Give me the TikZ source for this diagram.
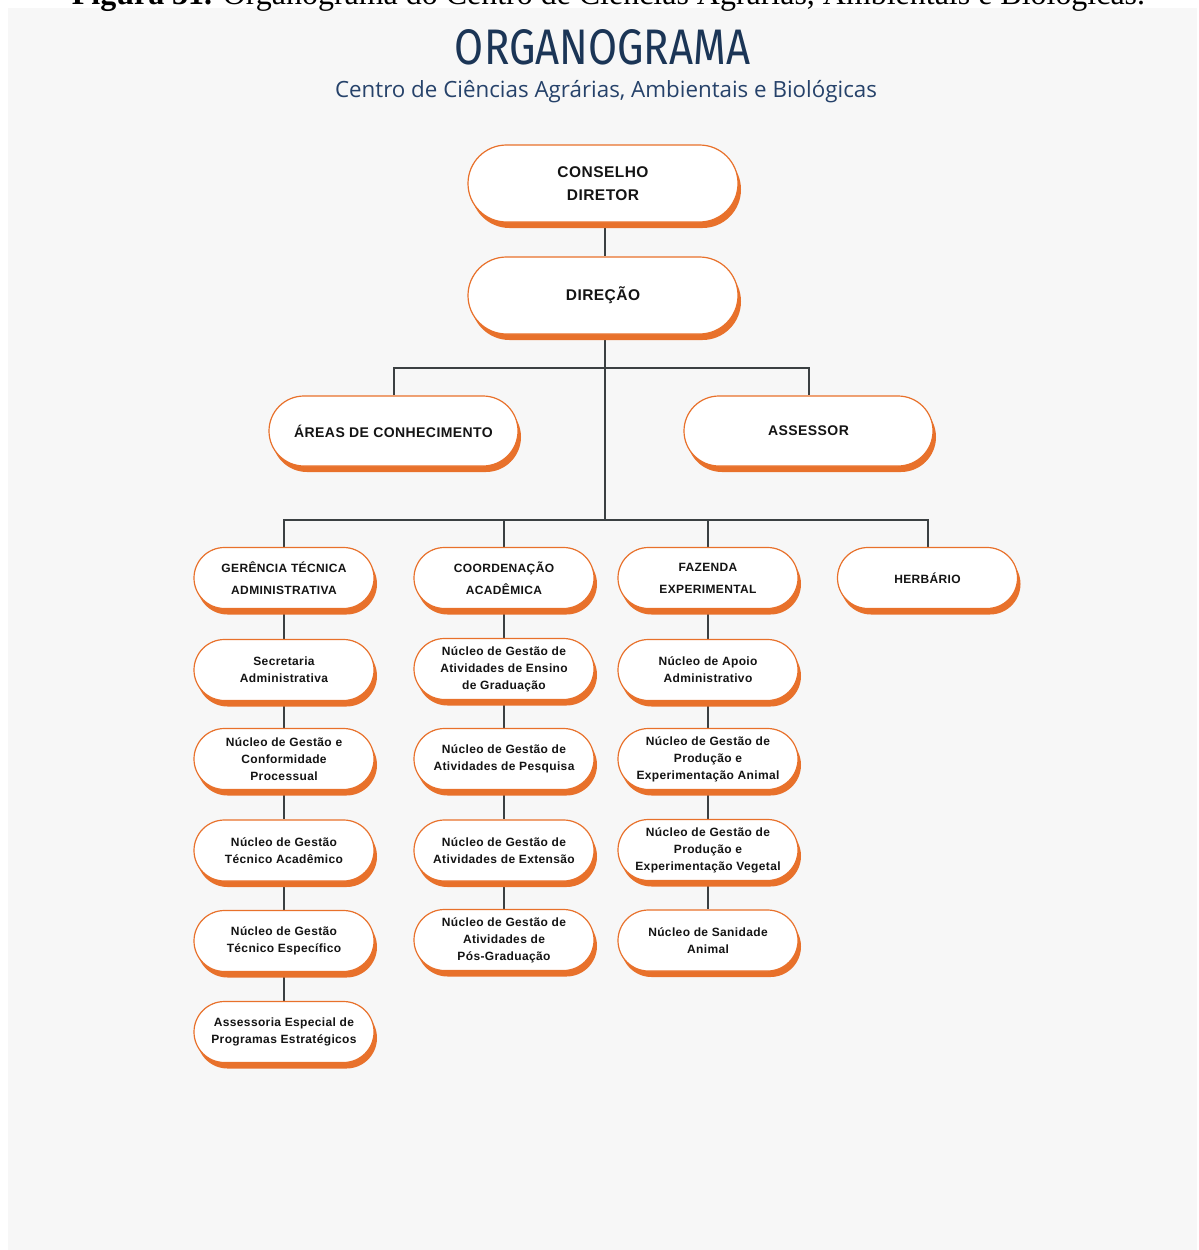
\documentclass[tikz,border=0pt]{standalone}
\usepackage{fontspec}
\usepackage{graphicx}
\setmainfont{Liberation Sans}
\newfontfamily\nodefont[LetterSpace=3]{Liberation Sans}
\newfontfamily\titlefont{Fira Sans}
\newfontfamily\subfont{Open Sans}
\newfontfamily\capfont{Liberation Serif}
\usetikzlibrary{shapes.misc,shadows,backgrounds}
\definecolor{org}{HTML}{E8712B}
\definecolor{navy}{HTML}{1B3556}
\definecolor{subnavy}{HTML}{26426A}
\definecolor{lin}{HTML}{3B4042}
\definecolor{bg}{HTML}{F7F7F7}
\begin{document}
\begin{tikzpicture}[x=1pt,y=-1pt,
  pill/.style={rounded rectangle, draw=org, line width=1.2pt, fill=white,
    align=center, inner sep=0pt, text=black!92,
    drop shadow={shadow xshift=3pt, shadow yshift=-6pt, fill=org, opacity=1}},
  bigbox/.style={pill, minimum width=270pt, minimum height=77pt,
    font=\nodefont\bfseries\fontsize{15.5}{23}\selectfont},
  midbox/.style={pill, minimum width=249pt, minimum height=70pt,
    font=\nodefont\bfseries\fontsize{14}{20}\selectfont},
  headbox/.style={pill, minimum width=180pt, minimum height=61pt,
    font=\nodefont\bfseries\fontsize{12}{22}\selectfont},
  smallbox/.style={pill, minimum width=180pt, minimum height=61pt,
    font=\nodefont\bfseries\fontsize{12}{17}\selectfont},
  conn/.style={draw=lin, line width=2pt}
]
\clip (0,0) rectangle (1199,1250);
\useasboundingbox (0,0) rectangle (1199,1250);

% caption (clipped at top, as in the reference)
\node[anchor=base, inner sep=0pt] (caption) at (608.5,5)
  {\resizebox{1073pt}{!}{\capfont\fontsize{28}{30}\selectfont\textbf{Figura 31.} Organograma do Centro de Ciências Agrárias, Ambientais e Biológicas.}};

% title
\node[anchor=base, inner sep=0pt, text=navy] (title) at (602.5,64)
  {\resizebox{295pt}{35pt}{\titlefont ORGANOGRAMA}};
\node[anchor=base, inner sep=0pt, text=subnavy] (subtitle) at (606,97)
  {\resizebox{542pt}{!}{\subfont\fontsize{20}{24}\selectfont Centro de Ciências Agrárias, Ambientais e Biológicas}};

% top
\node[bigbox] (cons) at (603,183.5) {CONSELHO\\DIRETOR};
\node[bigbox] (dir) at (603,295.5) {DIREÇÃO};
\node[midbox] (areas) at (393.5,431) {ÁREAS DE CONHECIMENTO};
\node[midbox] (assessor) at (808.5,431) {ASSESSOR};

% headers
\node[headbox] (ger) at (284,578) {GERÊNCIA TÉCNICA\\ADMINISTRATIVA};
\node[headbox] (coo) at (504,578) {COORDENAÇÃO\\ACADÊMICA};
\node[headbox] (faz) at (708,578) {FAZENDA\\EXPERIMENTAL};
\node[headbox] (herb) at (927.5,578) {HERBÁRIO};

% column 1
\node[smallbox] (sec) at (284,670) {Secretaria\\Administrativa};
\node[smallbox] (ngc) at (284,759) {Núcleo de Gestão e\\Conformidade\\Processual};
\node[smallbox] (nta) at (284,850.5) {Núcleo de Gestão\\Técnico Acadêmico};
\node[smallbox] (nte) at (284,941) {Núcleo de Gestão\\Técnico Específico};
\node[smallbox] (aep) at (284,1032) {Assessoria Especial de\\Programas Estratégicos};

% column 2
\node[smallbox] (nen) at (504,669) {Núcleo de Gestão de\\Atividades de Ensino\\de Graduação};
\node[smallbox] (npe) at (504,759) {Núcleo de Gestão de\\Atividades de Pesquisa};
\node[smallbox] (nex) at (504,850.5) {Núcleo de Gestão de\\Atividades de Extensão};
\node[smallbox] (npg) at (504,940) {Núcleo de Gestão de\\Atividades de\\Pós-Graduação};

% column 3
\node[smallbox] (nap) at (708,670) {Núcleo de Apoio\\Administrativo};
\node[smallbox] (npa) at (708,759) {Núcleo de Gestão de\\Produção e\\Experimentação Animal};
\node[smallbox] (npv) at (708,850) {Núcleo de Gestão de\\Produção e\\Experimentação Vegetal};
\node[smallbox] (nsa) at (708,940.5) {Núcleo de Sanidade\\Animal};

\coordinate (t1) at (605,368);
\coordinate (t2) at (605,520);

\begin{pgfonlayer}{background}
  \fill[bg] (8,8) rectangle (1197,1250);
  \draw[conn] (cons.south -| t1) -- (dir.north -| t1);
  \draw[conn] (dir.south -| t1) -- (t2);
  \draw[conn] (areas.north) |- (t1) -| (assessor.north);
  \draw[conn] (ger.north) |- (t2) -| (herb.north);
  \draw[conn] (coo.north) -- (coo.north |- t2);
  \draw[conn] (faz.north) -- (faz.north |- t2);
  \draw[conn] (ger.south) -- (sec.north);
  \draw[conn] (sec.south) -- (ngc.north);
  \draw[conn] (ngc.south) -- (nta.north);
  \draw[conn] (nta.south) -- (nte.north);
  \draw[conn] (nte.south) -- (aep.north);
  \draw[conn] (coo.south) -- (nen.north);
  \draw[conn] (nen.south) -- (npe.north);
  \draw[conn] (npe.south) -- (nex.north);
  \draw[conn] (nex.south) -- (npg.north);
  \draw[conn] (faz.south) -- (nap.north);
  \draw[conn] (nap.south) -- (npa.north);
  \draw[conn] (npa.south) -- (npv.north);
  \draw[conn] (npv.south) -- (nsa.north);
\end{pgfonlayer}
\end{tikzpicture}
\end{document}
